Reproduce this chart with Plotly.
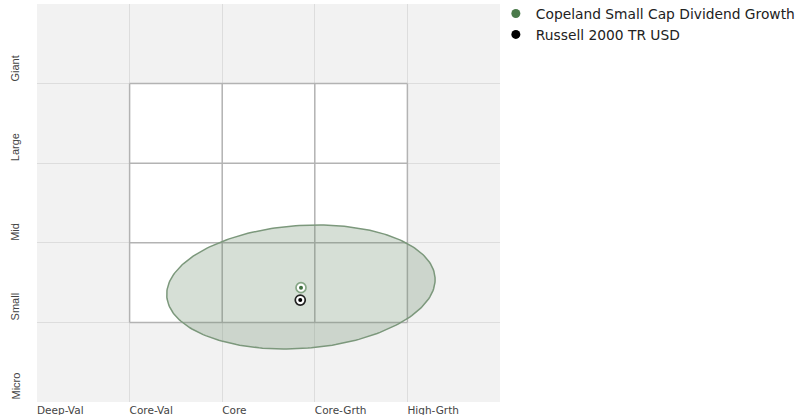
import numpy as np
import plotly.graph_objects as go

# ---- data ----
style_labels = ["Deep-Val", "Core-Val", "Core", "Core-Grth", "High-Grth"]
style_ticks = [0, 1, 2, 3, 4]
size_labels = ["Micro", "Small", "Mid", "Large", "Giant"]
size_ticks = [0, 1, 2, 3, 4]

series_names = ["Copeland Small Cap Dividend Growth", "Russell 2000 TR USD"]
series_x = [2.851, 2.843]
series_y = [1.436, 1.281]

# ownership zone of the fund (centre, half-axes, tilt in degrees)
zone_cx = 2.85
zone_cy = 1.445
zone_a = 1.452      # half major axis (x units)
zone_b = 0.664      # half minor axis (x units)
zone_tilt = 4.0

# ---- styling ----
dot_colors = ["#3f6f3f", "#000000"]
ring_colors = ["#86a686", "#222222"]
legend_colors = ["#4a7a4a", "#000000"]
X_UNIT_PX = 463 / 5
Y_UNIT_PX = 398 / 5
ratio = X_UNIT_PX / Y_UNIT_PX

t = np.linspace(0, 2 * np.pi, 240)
th = np.deg2rad(zone_tilt)
ex = zone_cx + zone_a * np.cos(th) * np.cos(t) - zone_b * np.sin(th) * np.sin(t)
ey = zone_cy + ratio * (zone_a * np.sin(th) * np.cos(t) + zone_b * np.cos(th) * np.sin(t))

fig = go.Figure()

fig.add_trace(go.Scatter(
    x=ex, y=ey, mode="lines", fill="toself",
    fillcolor="rgba(105,138,105,0.27)",
    line=dict(color="#7c987c", width=1.5),
    hoverinfo="skip", showlegend=False))

# rings
fig.add_trace(go.Scatter(
    x=series_x, y=series_y, mode="markers", showlegend=False,
    marker=dict(size=10, color="white", line=dict(color=ring_colors, width=1.7))))
# centre dots
fig.add_trace(go.Scatter(
    x=series_x, y=series_y, mode="markers", showlegend=False,
    marker=dict(size=4, color=dot_colors, line=dict(width=0))))

# legend entries
for name, c in zip(series_names, legend_colors):
    fig.add_trace(go.Scatter(
        x=[None], y=[None], mode="markers", name=name,
        marker=dict(size=9, color=c)))

# white 3x3 box and its lines
shapes = [dict(type="rect", xref="x", yref="y", x0=1, x1=4, y0=1, y1=4,
               fillcolor="white", line=dict(width=0), layer="below")]
for v in [1, 2, 3, 4]:
    shapes.append(dict(type="line", xref="x", yref="y", x0=v, x1=v, y0=1, y1=4,
                       line=dict(color="#b3b3b3", width=1.5), layer="between"))
    shapes.append(dict(type="line", xref="x", yref="y", x0=1, x1=4, y0=v, y1=v,
                       line=dict(color="#b3b3b3", width=1.5), layer="between"))

annotations = []
for lab, yv in zip(size_labels, size_ticks):
    annotations.append(dict(
        text=lab, xref="paper", yref="y", x=-0.0475, y=yv,
        xanchor="center", yanchor="bottom", textangle=-90, showarrow=False,
        font=dict(family="Liberation Sans Narrow, Arial Narrow, sans-serif", size=11, color="#444")))

fig.update_layout(
    width=798, height=415,
    margin=dict(l=37, r=298, t=4, b=13, autoexpand=False),
    paper_bgcolor="white", plot_bgcolor="#f2f2f2",
    shapes=shapes, annotations=annotations,
    showlegend=True,
    legend=dict(x=0.991, y=1.015, xanchor="left", yanchor="top",
                font=dict(family="DejaVu Sans, Verdana, sans-serif", size=13.8, color="#222"),
                itemwidth=30, tracegroupgap=0, bgcolor="rgba(0,0,0,0)"),
    xaxis=dict(range=[0, 5], tickvals=style_ticks, ticktext=style_labels,
               ticklabelposition="outside right", showgrid=True, gridcolor="#dddddd",
               gridwidth=1, zeroline=False, showline=False, ticks="",
               tickfont=dict(family="DejaVu Sans, sans-serif", size=10.5, color="#444"),
               fixedrange=True),
    yaxis=dict(range=[0, 5], tickvals=size_ticks, showticklabels=False,
               showgrid=True, gridcolor="#dddddd", gridwidth=1, zeroline=False,
               showline=False, ticks="", fixedrange=True),
)

fig.write_html("out.html", config={"displayModeBar": False},
               post_script="document.body.style.margin='0px';")
